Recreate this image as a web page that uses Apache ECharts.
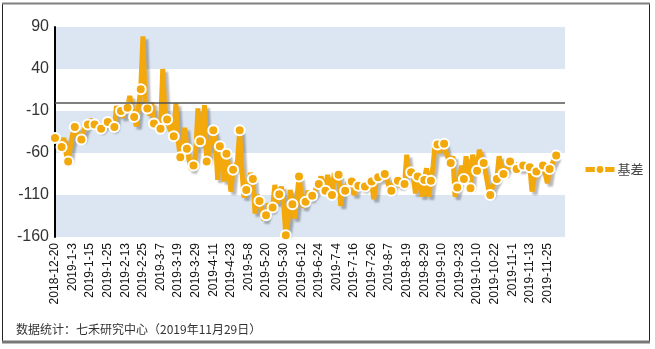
<!DOCTYPE html>
<html><head><meta charset="utf-8">
<script src="https://cdn.jsdelivr.net/npm/echarts@6/dist/echarts.min.js"></script>
<style>html,body{margin:0;padding:0;background:#fff}#c{width:655px;height:349px}</style>
</head><body><div id="c"></div>
<script>
const dates = [
'2018-12-20','2018-12-21','2018-12-24','2018-12-25','2018-12-26','2018-12-27','2018-12-28',
'2019-1-2','2019-1-3','2019-1-4','2019-1-7','2019-1-8','2019-1-9','2019-1-10','2019-1-11','2019-1-14','2019-1-15','2019-1-16','2019-1-17','2019-1-18','2019-1-21','2019-1-22','2019-1-23','2019-1-24','2019-1-25','2019-1-28','2019-1-29','2019-1-30','2019-1-31',
'2019-2-1','2019-2-11','2019-2-12','2019-2-13','2019-2-14','2019-2-15','2019-2-18','2019-2-19','2019-2-20','2019-2-21','2019-2-22','2019-2-25','2019-2-26','2019-2-27','2019-2-28',
'2019-3-1','2019-3-4','2019-3-5','2019-3-6','2019-3-7','2019-3-8','2019-3-11','2019-3-12','2019-3-13','2019-3-14','2019-3-15','2019-3-18','2019-3-19','2019-3-20','2019-3-21','2019-3-22','2019-3-25','2019-3-26','2019-3-27','2019-3-28','2019-3-29',
'2019-4-1','2019-4-2','2019-4-3','2019-4-4','2019-4-8','2019-4-9','2019-4-10','2019-4-11','2019-4-12','2019-4-15','2019-4-16','2019-4-17','2019-4-18','2019-4-19','2019-4-22','2019-4-23','2019-4-24','2019-4-25','2019-4-26','2019-4-29','2019-4-30',
'2019-5-6','2019-5-7','2019-5-8','2019-5-9','2019-5-10','2019-5-13','2019-5-14','2019-5-15','2019-5-16','2019-5-17','2019-5-20','2019-5-21','2019-5-22','2019-5-23','2019-5-24','2019-5-27','2019-5-28','2019-5-29','2019-5-30','2019-5-31',
'2019-6-3','2019-6-4','2019-6-5','2019-6-6','2019-6-10','2019-6-11','2019-6-12','2019-6-13','2019-6-14','2019-6-17','2019-6-18','2019-6-19','2019-6-20','2019-6-21','2019-6-24','2019-6-25','2019-6-26','2019-6-27','2019-6-28',
'2019-7-1','2019-7-2','2019-7-3','2019-7-4','2019-7-5','2019-7-8','2019-7-9','2019-7-10','2019-7-11','2019-7-12','2019-7-15','2019-7-16','2019-7-17','2019-7-18','2019-7-19','2019-7-22','2019-7-23','2019-7-24','2019-7-25','2019-7-26','2019-7-29','2019-7-30','2019-7-31',
'2019-8-1','2019-8-2','2019-8-5','2019-8-6','2019-8-7','2019-8-8','2019-8-9','2019-8-12','2019-8-13','2019-8-14','2019-8-15','2019-8-16','2019-8-19','2019-8-20','2019-8-21','2019-8-22','2019-8-23','2019-8-26','2019-8-27','2019-8-28','2019-8-29','2019-8-30',
'2019-9-2','2019-9-3','2019-9-4','2019-9-5','2019-9-6','2019-9-9','2019-9-10','2019-9-11','2019-9-12','2019-9-16','2019-9-17','2019-9-18','2019-9-19','2019-9-20','2019-9-23','2019-9-24','2019-9-25','2019-9-26','2019-9-27','2019-9-30',
'2019-10-8','2019-10-9','2019-10-10','2019-10-11','2019-10-14','2019-10-15','2019-10-16','2019-10-17','2019-10-18','2019-10-21','2019-10-22','2019-10-23','2019-10-24','2019-10-25','2019-10-28','2019-10-29','2019-10-30','2019-10-31',
'2019-11-1','2019-11-4','2019-11-5','2019-11-6','2019-11-7','2019-11-8','2019-11-11','2019-11-12','2019-11-13','2019-11-14','2019-11-15','2019-11-18','2019-11-19','2019-11-20','2019-11-21','2019-11-22','2019-11-25','2019-11-26','2019-11-27','2019-11-28','2019-11-29'
];

const basis = [
-42,-45,-48,-53,-42,-60,-70,-52,-38,-29,
-35,-40,-44,-34,-28,-26,-20,-24,-26,-22,
-33,-31,-28,-22,-23,-26,-31,-29,-4,-15,
-10,-18,-2,-6,8,-5,-17,-28,-5,16,
79,2,-7,-15,0,-25,-30,-22,-31,40,
-10,-20,-30,-35,-40,-1,-45,-65,-60,-30,
-55,-68,-80,-75,-60,-7,-46,-50,-3,-70,
-60,-45,-33,-45,-92,-52,-58,-94,-61,-75,
-106,-80,-78,-70,-33,-80,-113,-104,-95,-84,
-91,-132,-110,-117,-128,-140,-134,-120,-128,-125,
-98,-120,-109,-100,-120,-158,-140,-104,-121,-138,
-115,-88,-108,-125,-118,-105,-115,-111,-108,-100,
-97,-88,-100,-105,-86,-100,-110,-84,-95,-86,
-123,-98,-105,-96,-92,-94,-110,-100,-99,-95,
-103,-100,-95,-100,-94,-115,-95,-89,-92,-88,
-85,-92,-100,-105,-95,-90,-93,-100,-95,-97,
-62,-85,-83,-90,-108,-88,-95,-112,-92,-78,
-112,-93,-75,-47,-50,-60,-47,-49,-60,-68,
-72,-64,-112,-101,-90,-75,-91,-64,-85,-102,
-62,-75,-81,-56,-65,-72,-85,-100,-110,-100,
-95,-91,-64,-75,-85,-80,-75,-70,-78,-72,
-79,-76,-80,-75,-78,-74,-77,-106,-90,-82,
-80,-76,-75,-85,-96,-79,-74,-68,-63
];

const yTicks = [-160, -110, -60, -10, 40, 90];
const seriesName = '基差';
const note = '数据统计：七禾研究中心（2019年11月29日）';

const lineColor = '#f3a80c';
const chart = echarts.init(document.getElementById('c'));
chart.setOption({
  animation: false,
  backgroundColor: '#ffffff',
  textStyle: { fontFamily: '"Liberation Sans", Arial, "Noto Sans CJK SC", sans-serif' },
  grid: { left: 55, right: 90, top: 27, bottom: 112 },
  xAxis: {
    type: 'value', min: 0, max: 232, interval: 8,
    axisLine: { show: false, onZero: false },
    axisTick: { show: false },
    splitLine: { show: false },
    axisLabel: {
      rotate: 90, margin: 6, fontSize: 12, color: '#111',
      formatter: v => dates[v] || ''
    }
  },
  yAxis: {
    type: 'value', min: yTicks[0], max: yTicks[yTicks.length - 1], interval: 50,
    axisLine: { show: true, onZero: false, lineStyle: { color: '#000', width: 2 } },
    axisTick: { show: false },
    splitLine: { show: false },
    splitArea: { show: true, areaStyle: { color: ['#dce6f2', '#ffffff'] } },
    axisLabel: { fontSize: 16, color: '#333', margin: 6 }
  },
  legend: {
    orient: 'vertical', left: 578, top: 158,
    itemWidth: 29, itemHeight: 11, itemGap: 5,
    lineStyle: { width: 5 },
    textStyle: { fontSize: 13, color: '#444', fontFamily: '"Noto Sans CJK SC", sans-serif', padding: [0, 0, 0, -2] },
    data: [seriesName]
  },
  series: [{
    name: seriesName, type: 'line',
    data: basis.map((v, i) => ({ value: [i, v], symbol: i % 3 === 0 ? 'circle' : 'none' })),
    symbol: 'circle', symbolSize: 10,
    lineStyle: { color: lineColor, width: 5, shadowColor: 'rgba(0,0,0,0.28)', shadowBlur: 2, shadowOffsetX: 3, shadowOffsetY: 3 },
    itemStyle: { color: lineColor, borderColor: '#ffffff', borderWidth: 2 },
    markLine: {
      silent: true, symbol: 'none', label: { show: false },
      lineStyle: { color: '#555', width: 1.5, type: 'solid' },
      data: [{ yAxis: 0 }]
    }
  }],
  graphic: [
    { type: 'rect', shape: { x: 2.5, y: 3.5, width: 647, height: 338 }, style: { fill: 'none', stroke: '#222', lineWidth: 1 } },
    { type: 'line', shape: { x1: 2, y1: 3.5, x2: 650, y2: 3.5 }, style: { stroke: '#808080', lineWidth: 2 } },
    { type: 'line', shape: { x1: 2, y1: 342, x2: 650, y2: 342 }, style: { stroke: '#777', lineWidth: 3 } },
    { type: 'text', left: 16, top: 323, style: { text: note, font: '12px "Noto Sans CJK SC", sans-serif', fill: '#333' } }
  ]
});
</script>
</body></html>
